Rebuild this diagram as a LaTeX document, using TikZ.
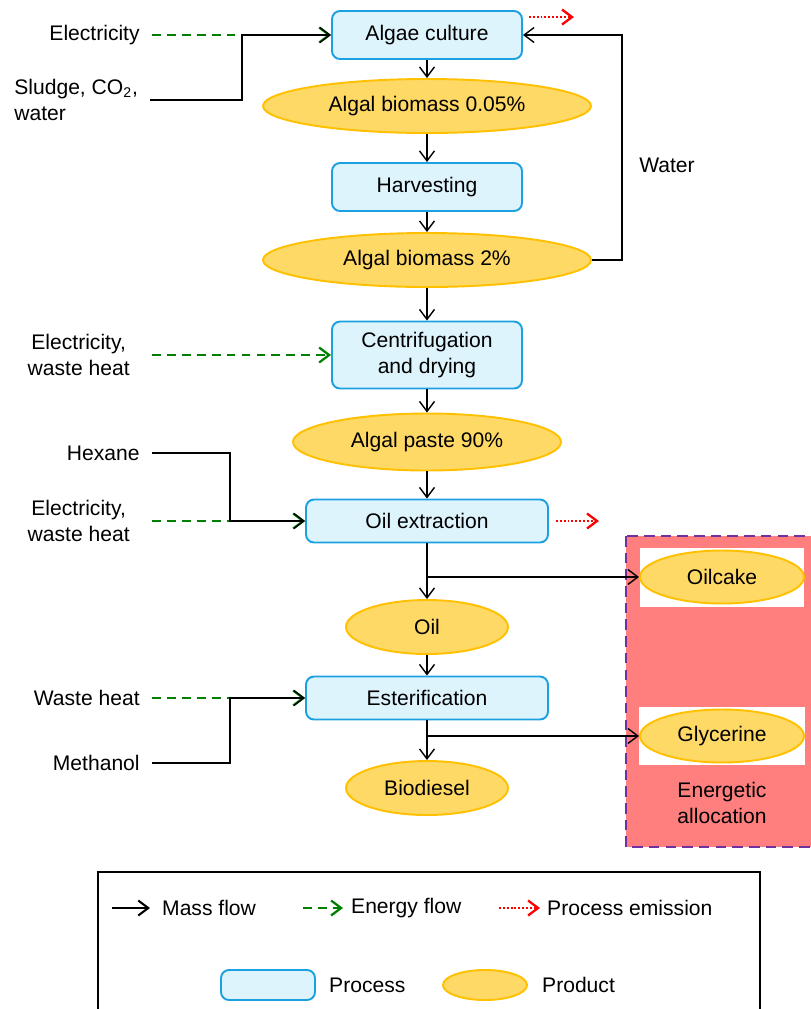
\documentclass[tikz,border=0pt]{standalone}
\usepackage{fontspec}
\setmainfont{Liberation Sans}
\usetikzlibrary{positioning,arrows.meta,shapes.geometric}
\definecolor{procfill}{HTML}{DDF4FD}
\definecolor{procline}{HTML}{1BA1E2}
\definecolor{prodfill}{HTML}{FFD966}
\definecolor{prodline}{HTML}{FFC000}
\definecolor{allocfill}{HTML}{FF7F7F}
\definecolor{allocline}{HTML}{7030A0}
\definecolor{energygreen}{HTML}{008000}

\begin{document}
\begin{tikzpicture}[x=0.02cm, y=-0.02cm, font=\fontsize{12}{15}\selectfont,
  >={Straight Barb[length=2mm,width=3mm]},
  process/.style={draw=procline, line width=1.1pt, fill=procfill, rounded corners=1.6mm, minimum width=3.8cm, minimum height=0.96cm, align=center},
  product/.style={ellipse, draw=prodline, line width=1.1pt, fill=prodfill, minimum height=1.08cm, inner sep=1pt},
  src/.style={anchor=east, inner xsep=0.24cm, align=center},
  mass/.style={->, line width=0.8pt},
  energy/.style={->, line width=1.3pt, energygreen, dash pattern=on 5pt off 3.5pt},
  emis/.style={->, line width=1.3pt, red, dash pattern=on 1.1pt off 1.1pt}]
  \useasboundingbox (0,0) rectangle (811,1009);

  % energetic allocation area
  \draw[allocline, fill=allocfill, line width=1.5pt, dash pattern=on 6pt off 3.5pt] (626,536) rectangle (830,847);
  \fill[white] (640,548) rectangle (804,607);
  \fill[white] (639,707) rectangle (805,765);

  % processes and products
  \node[process] (algae) at (427,35) {Algae culture};
  \node[product, minimum width=6.56cm] (bio1) at (427,106) {Algal biomass 0.05\%};
  \node[process] (harv) at (427,187) {Harvesting};
  \node[product, minimum width=6.56cm] (bio2) at (427,260) {Algal biomass 2\%};
  \node[process, minimum height=1.34cm] (centri) at (427,355) {Centrifugation\\and drying};
  \node[product, minimum width=5.36cm, minimum height=1.14cm] (paste) at (427,442) {Algal paste 90\%};
  \node[process, minimum width=4.84cm, minimum height=0.86cm] (oilext) at (427,521) {Oil extraction};
  \node[product, minimum width=3.24cm] (oil) at (427,627) {Oil};
  \node[process, minimum width=4.84cm, minimum height=0.86cm] (ester) at (427,698) {Esterification};
  \node[product, minimum width=3.24cm] (biod) at (427,788) {Biodiesel};
  \node[product, minimum width=3.28cm, minimum height=1.06cm] (oilcake) at (722,577) {Oilcake};
  \node[product, minimum width=3.28cm, minimum height=1.06cm] (glyc) at (722,736) {Glycerine};
  \node[align=center] (alloc) at (722,803) {Energetic\\allocation};

  % inputs
  \node[src] (elec1) at (152,35) {Electricity};
  \node[anchor=west, align=left, inner xsep=0.24cm] (sludge) at (2,100) {Sludge, CO\textsubscript{2},\\water};
  \node[src, inner xsep=0.44cm] (elec2) at (152,355) {Electricity,\\waste heat};
  \node[src] (hexane) at (152,453) {Hexane};
  \node[src, inner xsep=0.44cm] (elec3) at (152,521) {Electricity,\\waste heat};
  \node[src] (waste) at (152,698) {Waste heat};
  \node[src] (meth) at (152,763) {Methanol};
  \node (water) at (667,165) {Water};

  \coordinate (j1) at (242,35);
  \coordinate (j2) at (230,521);
  \coordinate (j3) at (230,698);
  \coordinate (wret) at (622,35);

  % energy flows
  \draw[energy] (elec1.east) -- (algae.west);
  \draw[energy] (elec2.east) -- (centri.west);
  \draw[energy] (elec3.east) -- (oilext.west);
  \draw[energy] (waste.east) -- (ester.west);

  % mass flows
  \draw[mass] (sludge.east) -| (j1) -- (algae.west);
  \draw[mass] (algae.south) -- (bio1.north);
  \draw[mass] (bio1.south) -- (harv.north);
  \draw[mass] (harv.south) -- (bio2.north);
  \draw[mass] (bio2.east) -| (wret) -- (algae.east);
  \draw[mass] (bio2.south) -- (centri.north);
  \draw[mass] (centri.south) -- (paste.north);
  \draw[mass] (paste.south) -- (oilext.north);
  \draw[mass] (hexane.east) -| (j2) -- (oilext.west);
  \draw[mass] (oilext.south) -- (oil.north);
  \draw[mass] (oilext.south |- oilcake.west) -- (oilcake.west);
  \draw[mass] (oil.south) -- (ester.north);
  \draw[mass] (meth.east) -| (j3) -- (ester.west);
  \draw[mass] (ester.south) -- (biod.north);
  \draw[mass] (ester.south |- glyc.west) -- (glyc.west);

  % process emissions
  \draw[emis] ([shift={(6,7)}]algae.north east) -- ++(45,0);
  \draw[emis] ([shift={(7,0)}]oilext.east) -- ++(43,0);

  % legend
  \draw[line width=0.6pt] (98,1015) |- (760,872) -- (760,1015);
  \coordinate (lm) at (112,908);
  \draw[mass, line width=1.2pt] (lm) -- ++(38,0);
  \node[anchor=west] (lmass) at (156,908) {Mass flow};
  \coordinate (le) at (303,908);
  \draw[energy] (le) -- ++(40,0);
  \node[anchor=west] (lenergy) at (345,908) {Energy flow};
  \coordinate (lx) at (499,908);
  \draw[emis] (lx) -- ++(41,0);
  \node[anchor=west] (lemis) at (541,908) {Process emission};
  \node[process, minimum width=1.88cm, minimum height=0.6cm] (lproc) at (268,985) {};
  \node[anchor=west] (lproct) at (323,985) {Process};
  \node[product, minimum width=1.68cm, minimum height=0.6cm] (lprod) at (485,985) {};
  \node[anchor=west] (lprodt) at (536,985) {Product};
\end{tikzpicture}
\end{document}
